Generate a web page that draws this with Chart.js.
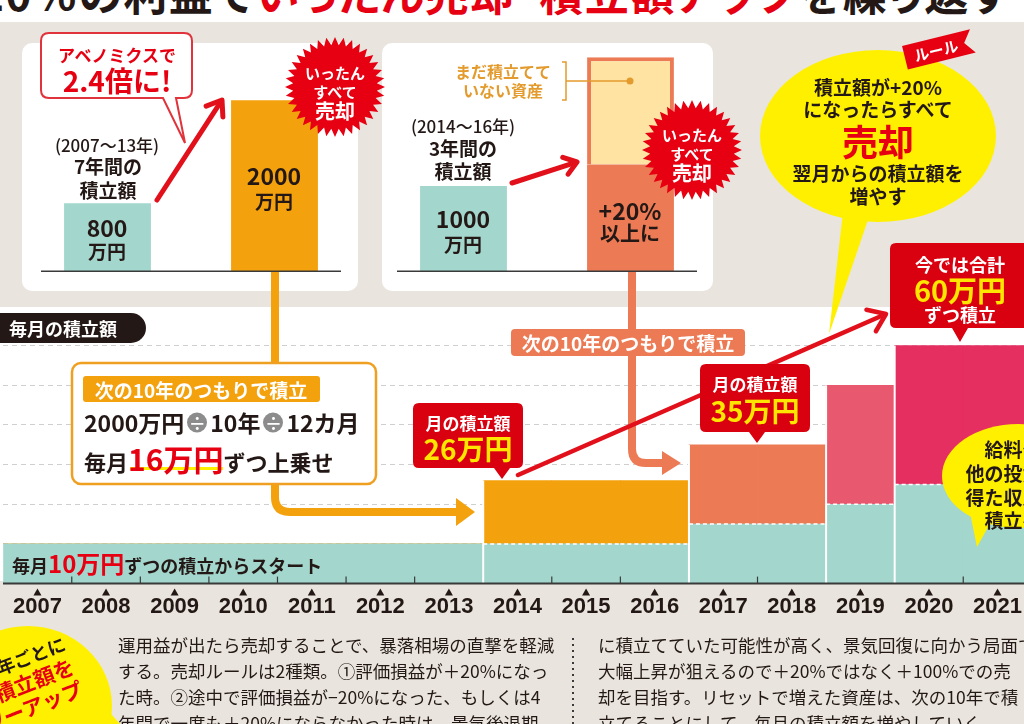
<!DOCTYPE html>
<html lang="ja">
<head>
<meta charset="utf-8">
<title>積立額アップを繰り返す</title>
<script src="https://cdn.jsdelivr.net/npm/chart.js@4.4.0/dist/chart.umd.min.js"></script>
<style>
html, body { margin: 0; padding: 0; }
body {
    width: 1024px; height: 724px; overflow: hidden; position: relative;
    background: #e9e5de; color: #231815;
    font-family: "Noto Sans CJK JP", "Noto Sans", sans-serif;
}
.abs { position: absolute; }
.panel { position: absolute; background: #fff; border-radius: 10px; }
.t { position: absolute; white-space: nowrap; line-height: 1; font-weight: 700; }
.c { transform: translate(-50%, -50%); text-align: center; }
.l { transform: translateY(-50%); }
.w { color: #fff; }
.y { color: #ffe600; }
.r { color: #e60012; }
.dv {
    display: inline-block; width: 20px; height: 20px; border-radius: 50%;
    background: #8c8c8c; color: #fff; font-size: 17px; line-height: 20px;
    text-align: center; vertical-align: 2px; margin: 0 3px;
}
.para { position: absolute; font-size: 17.5px; line-height: 26px; white-space: nowrap; font-weight: 400; }
</style>
</head>
<body>

<div class="abs" style="left:0;top:0;width:1024px;height:22px;background:#fff;"></div>
<div class="t" style="left:-22px;top:-30px;font-size:44px;letter-spacing:1.5px;font-feature-settings:'palt';">20％の利益で<span class="r">いったん売却・積立額アップ</span>を繰り返す</div>

<div class="panel" style="left:22px;top:43px;width:336px;height:248px;"></div>
<div class="panel" style="left:382px;top:43px;width:331px;height:248px;"></div>
<div class="abs" style="left:0;top:307px;width:1024px;height:274px;background:#fff;"></div>

<canvas id="firstChart" class="abs" style="left:24px;top:40px;" width="334" height="232"></canvas>
<canvas id="secondChart" class="abs" style="left:380px;top:40px;" width="334" height="232"></canvas>
<canvas id="mainChart" class="abs" style="left:3px;top:306px;" width="1029" height="324"></canvas>

<svg id="deco" class="abs" width="1024" height="724" style="left:0;top:0;">
  <ellipse cx="28" cy="706" rx="84" ry="80" fill="#fff000"/>
  <polygon points="90,690 120,724 70,724" fill="#fff000"/>
  <line x1="573" y1="638" x2="573" y2="724" stroke="#3a3a3a" stroke-width="2" stroke-dasharray="2,4"/>

  <path d="M275,272 V497 Q275,512 290,512 H458" fill="none" stroke="#f4a10e" stroke-width="8"/>
  <polygon points="456,498 475,512 456,526" fill="#f4a10e"/>
  <path d="M632,272 V449 Q632,463 646,463 H664" fill="none" stroke="#ec7b55" stroke-width="8"/>
  <polygon points="662,451 681,463 662,475" fill="#ec7b55"/>

  <rect x="-20" y="313" width="166" height="30" rx="15" fill="#231815"/>

  <rect x="72" y="363" width="304" height="121" rx="9" fill="#fff" stroke="#f0a020" stroke-width="2.5"/>
  <rect x="83" y="376" width="237" height="26" rx="3" fill="#f4a10e"/>
  <rect x="511" y="329" width="234" height="27" rx="4" fill="#ec7b55"/>

  <path d="M49,33 H184 Q192,33 192,41 V90 Q192,98 184,98 H176 L185,143 L163,98 H49 Q41,98 41,90 V41 Q41,33 49,33 Z" fill="#fff" stroke="#e0333c" stroke-width="2"/>

  <polyline points="562,62 566,62 566,100 562,100" fill="none" stroke="#e39b2d" stroke-width="1.5"/>
  <line x1="566" y1="81" x2="630" y2="81" stroke="#e39b2d" stroke-width="1.5"/>
  <circle cx="630" cy="81" r="3.5" fill="#e39b2d"/>

  <ellipse cx="878" cy="136" rx="118" ry="86" fill="#fff000"/>
  <polygon points="843,212 870,214 829,334" fill="#fff000"/>
  <g transform="rotate(-14 936 50)"><polygon points="904,38 974,38 965,50 974,62 904,62" fill="#e60012"/></g>

  <ellipse cx="1018" cy="476" rx="76" ry="52" fill="#fff000"/>
  <polygon points="968,503 992,520 977,547" fill="#fff000"/>

  <g id="arrows"></g>
  <g id="bursts"></g>

  <path d="M419,403 H517 Q523,403 523,409 V462 Q523,468 517,468 H510 L502,479 L494,468 H419 Q413,468 413,462 V409 Q413,403 419,403 Z" fill="#d9000f"/>
  <path d="M706,364 H804 Q810,364 810,370 V426 Q810,432 804,432 H765 L757,443 L749,432 H706 Q700,432 700,426 V370 Q700,364 706,364 Z" fill="#d9000f"/>
  <path d="M896,243 H1030 V328 H968 L960,342 L952,328 H896 Q890,328 890,322 V249 Q890,243 896,243 Z" fill="#d9000f"/>
</svg>

<!-- top-left panel texts -->
<div class="t c r" style="left:117px;top:54px;font-size:17px;">アベノミクスで</div>
<div class="t c r" style="left:117px;top:80px;font-size:28px;">2.4倍に!</div>
<div class="t c" style="left:107px;top:144px;font-size:17px;font-weight:500;">(2007〜13年)</div>
<div class="t c" style="left:108px;top:165px;font-size:19px;">7年間の</div>
<div class="t c" style="left:108px;top:189px;font-size:19px;">積立額</div>
<div class="t c" style="left:107px;top:227px;font-size:23px;">800</div>
<div class="t c" style="left:107px;top:250px;font-size:19px;">万円</div>
<div class="t c" style="left:274px;top:175px;font-size:23px;">2000</div>
<div class="t c" style="left:274px;top:200px;font-size:19px;">万円</div>
<div class="t c w" style="left:335px;top:72px;font-size:15px;">いったん</div>
<div class="t c w" style="left:335px;top:91px;font-size:15px;">すべて</div>
<div class="t c w" style="left:335px;top:111px;font-size:20px;">売却</div>

<!-- top-right panel texts -->
<div class="t c" style="left:503px;top:71px;font-size:16px;color:#e39b2d;">まだ積立てて</div>
<div class="t c" style="left:503px;top:90px;font-size:16px;color:#e39b2d;">いない資産</div>
<div class="t c" style="left:463px;top:125px;font-size:17px;font-weight:500;">(2014〜16年)</div>
<div class="t c" style="left:463px;top:147px;font-size:19px;">3年間の</div>
<div class="t c" style="left:463px;top:170px;font-size:19px;">積立額</div>
<div class="t c" style="left:463px;top:218px;font-size:23px;">1000</div>
<div class="t c" style="left:463px;top:243px;font-size:19px;">万円</div>
<div class="t c" style="left:630px;top:210px;font-size:23px;">+20%</div>
<div class="t c" style="left:630px;top:233px;font-size:20px;">以上に</div>
<div class="t c w" style="left:692px;top:134px;font-size:15px;">いったん</div>
<div class="t c w" style="left:692px;top:153px;font-size:15px;">すべて</div>
<div class="t c w" style="left:692px;top:173px;font-size:20px;">売却</div>

<!-- rule bubble -->
<div class="t c w" style="left:936px;top:50px;font-size:15px;transform:translate(-50%,-50%) rotate(-14deg);">ルール</div>
<div class="t c" style="left:878px;top:86px;font-size:19px;">積立額が+20%</div>
<div class="t c" style="left:878px;top:108px;font-size:19px;">になったらすべて</div>
<div class="t c r" style="left:878px;top:140px;font-size:36px;">売却</div>
<div class="t c" style="left:878px;top:172px;font-size:19px;">翌月からの積立額を</div>
<div class="t c" style="left:878px;top:195px;font-size:19px;">増やす</div>

<!-- main chart annotations -->
<div class="t l w" style="left:9px;top:328px;font-size:18px;">毎月の積立額</div>
<div class="t c w" style="left:201px;top:389px;font-size:19px;">次の10年のつもりで積立</div>
<div class="t l" style="left:84px;top:422px;font-size:23px;">2000万円<span class="dv">÷</span>10年<span class="dv">÷</span>12カ月</div>
<div class="abs" style="left:130px;top:467px;width:93px;height:3px;background:#fff000;"></div>
<div class="t l" style="left:84px;top:458px;font-size:22px;">毎月<span class="r" style="font-size:30px;">16万円</span>ずつ上乗せ</div>
<div class="t c w" style="left:628px;top:342px;font-size:19px;">次の10年のつもりで積立</div>
<div class="t c w" style="left:468px;top:422px;font-size:17px;">月の積立額</div>
<div class="t c y" style="left:468px;top:448px;font-size:28px;">26万円</div>
<div class="t c w" style="left:755px;top:383px;font-size:17px;">月の積立額</div>
<div class="t c y" style="left:755px;top:410px;font-size:28px;">35万円</div>
<div class="t c w" style="left:960px;top:264px;font-size:18px;">今では合計</div>
<div class="t c y" style="left:960px;top:289px;font-size:29px;">60万円</div>
<div class="t c w" style="left:960px;top:314px;font-size:18px;">ずつ積立</div>
<div class="t l" style="left:12px;top:563px;font-size:18px;">毎月<span class="r" style="font-size:24px;">10万円</span>ずつの積立からスタート</div>
<div class="t c" style="left:1013px;top:448px;font-size:19px;">給料や</div>
<div class="t c" style="left:1013px;top:472px;font-size:19px;">他の投資で</div>
<div class="t c" style="left:1013px;top:496px;font-size:19px;">得た収入も</div>
<div class="t c" style="left:1013px;top:519px;font-size:19px;">積立へ</div>

<!-- lower area -->
<div class="t" style="left:-140px;top:631px;width:200px;line-height:24px;text-align:right;transform:rotate(-21deg);transform-origin:right top;">
  <div style="font-size:18px;">3年ごとに</div>
  <div class="r" style="font-size:21px;">積立額を</div>
  <div class="r" style="font-size:21px;">パワーアップ</div>
</div>
<div class="para" style="left:118px;top:632px;">
  <div>運用益が出たら売却することで、暴落相場の直撃を軽減</div>
  <div>する。売却ルールは2種類。①評価損益が＋20%になっ</div>
  <div>た時。②途中で評価損益が−20%になった、もしくは4</div>
  <div>年間で一度も＋20%にならなかった時は、景気後退期</div>
</div>
<div class="para" style="left:598px;top:632px;">
  <div>に積立てていた可能性が高く、景気回復に向かう局面で</div>
  <div>大幅上昇が狙えるので＋20%ではなく＋100%での売</div>
  <div>却を目指す。リセットで増えた資産は、次の10年で積</div>
  <div>立てることにして、毎月の積立額を増やしていく。</div>
</div>

<script>
// monthly contribution (万円), one entry per year
const years = ['2007', '2008', '2009', '2010', '2011', '2012', '2013', '2014',
               '2015', '2016', '2017', '2018', '2019', '2020', '2021'];
const baseMonthly = [10, 10, 10, 10, 10, 10, 10, 10, 10, 10, 15, 15, 20, 25, 25];
const addedMonthly = [0, 0, 0, 0, 0, 0, 0, 16, 16, 16, 20, 20, 30, 35, 35];
const resetYears = ['2014', '2017', '2019', '2020'];
const gridValues = [10, 20, 30, 40, 50, 60];

// first cycle: 2007-13 paid in vs value at sale (万円)
const firstLabels = ['7年間の積立額', '売却時'];
const firstValues = [800, 2000];

// second cycle: 2014-16
const secondLabels = ['3年間の積立額', '売却時'];
const secondPaid = [1000, null];
const secondGain = [null, 1250];
const secondUnfunded = [null, 1250];

const TEAL = '#a3d6cd';
const ORANGE = '#f4a10e';
const SALMON = '#ec7b55';
const phaseColors = [ORANGE, SALMON, '#e8596f', '#e52f60'];

function phaseOf(i) {
    let p = 0;
    resetYears.forEach((yr, k) => { if (years.indexOf(yr) <= i) p = k; });
    return p;
}

const common = {
    responsive: false,
    animation: false,
    plugins: { legend: { display: false }, tooltip: { enabled: false } },
    layout: { padding: 0 }
};

const miniBase = {
    id: 'miniBase',
    afterDatasetsDraw(chart) {
        const { ctx, chartArea: a } = chart;
        ctx.save();
        ctx.strokeStyle = '#3a3a3a';
        ctx.lineWidth = 1.5;
        ctx.beginPath();
        ctx.moveTo(a.left + 17, a.bottom - 0.75);
        ctx.lineTo(a.right - 17, a.bottom - 0.75);
        ctx.stroke();
        ctx.restore();
    }
};

function miniScales() {
    return {
        x: { display: false, stacked: true },
        y: { display: false, stacked: true, min: 0, max: 2700 }
    };
}

new Chart(document.getElementById('firstChart'), {
    type: 'bar',
    data: {
        labels: firstLabels,
        datasets: [{
            data: firstValues,
            backgroundColor: [TEAL, ORANGE],
            barPercentage: 0.52,
            categoryPercentage: 1
        }]
    },
    options: { ...common, scales: miniScales() },
    plugins: [miniBase]
});

new Chart(document.getElementById('secondChart'), {
    type: 'bar',
    data: {
        labels: secondLabels,
        datasets: [
            { data: secondPaid, backgroundColor: TEAL, barPercentage: 0.52, categoryPercentage: 1 },
            { data: secondGain, backgroundColor: SALMON, barPercentage: 0.52, categoryPercentage: 1 },
            { data: secondUnfunded, backgroundColor: '#fee3a2', borderColor: SALMON, borderWidth: 4,
              borderSkipped: 'bottom', barPercentage: 0.52, categoryPercentage: 1 }
        ]
    },
    options: { ...common, scales: miniScales() },
    plugins: [miniBase]
});

const mainDecor = {
    id: 'mainDecor',
    afterDatasetsDraw(chart) {
        const { ctx, chartArea, scales: { x } } = chart;
        const base = chart.getDatasetMeta(0).data;
        const top = chart.getDatasetMeta(1).data;
        const half = (x.getPixelForValue(1) - x.getPixelForValue(0)) / 2;
        ctx.save();

        // dashed edge between the starting amount and the top-up
        ctx.strokeStyle = '#fff';
        ctx.lineWidth = 1.5;
        ctx.setLineDash([4, 3]);
        addedMonthly.forEach((v, i) => {
            if (!v) return;
            ctx.beginPath();
            ctx.moveTo(base[i].x - half, base[i].y);
            ctx.lineTo(base[i].x + half, base[i].y);
            ctx.stroke();
        });
        ctx.setLineDash([]);

        // white split where a new cycle starts
        ctx.lineWidth = 2;
        resetYears.forEach(yr => {
            const i = years.indexOf(yr);
            const xx = x.getPixelForValue(i) - half;
            ctx.beginPath();
            ctx.moveTo(xx, top[i].y);
            ctx.lineTo(xx, chartArea.bottom);
            ctx.stroke();
        });

        // little year ticks inside the plot
        ctx.strokeStyle = '#3a3a3a';
        ctx.lineWidth = 1.2;
        for (let i = 1; i < years.length; i++) {
            if (resetYears.includes(years[i])) continue;
            const xx = x.getPixelForValue(i) - half;
            ctx.beginPath();
            ctx.moveTo(xx, chartArea.bottom);
            ctx.lineTo(xx, chartArea.bottom - 7);
            ctx.stroke();
        }

        // axis line
        ctx.lineWidth = 2;
        ctx.beginPath();
        ctx.moveTo(0, chartArea.bottom);
        ctx.lineTo(chart.width, chartArea.bottom);
        ctx.stroke();

        // small markers over the year labels
        ctx.fillStyle = '#231815';
        years.forEach((yr, i) => {
            const xx = x.getPixelForValue(i);
            const yy = chartArea.bottom + 5;
            ctx.beginPath();
            ctx.moveTo(xx - 4, yy + 7);
            ctx.lineTo(xx + 4, yy + 7);
            ctx.lineTo(xx, yy);
            ctx.closePath();
            ctx.fill();
        });
        ctx.restore();
    }
};

new Chart(document.getElementById('mainChart'), {
    type: 'bar',
    data: {
        labels: years,
        datasets: [
            { label: '毎月の積立', data: baseMonthly, backgroundColor: TEAL,
              barPercentage: 1, categoryPercentage: 1 },
            { label: '上乗せ', data: addedMonthly,
              backgroundColor: years.map((_, i) => phaseColors[phaseOf(i)]),
              barPercentage: 1, categoryPercentage: 1 }
        ]
    },
    options: {
        ...common,
        scales: {
            x: {
                stacked: true,
                grid: { display: false, drawTicks: false },
                border: { display: false },
                ticks: {
                    padding: 10,
                    color: '#231815',
                    font: { family: "'Liberation Sans', Arial, sans-serif", size: 22, weight: 'bold' }
                }
            },
            y: {
                stacked: true,
                min: 0,
                max: 70,
                afterBuildTicks(scale) { scale.ticks = gridValues.map(v => ({ value: v })); },
                ticks: { display: false },
                grid: { color: '#cfcfcf', lineWidth: 1, drawTicks: false },
                border: { display: false, dash: [5, 4] }
            }
        }
    },
    plugins: [mainDecor]
});

// decorations: arrows and starbursts
const NS = 'http://www.w3.org/2000/svg';
function svgEl(tag, attrs, parent) {
    const el = document.createElementNS(NS, tag);
    Object.entries(attrs).forEach(([k, v]) => el.setAttribute(k, v));
    parent.appendChild(el);
    return el;
}

function arrow(x1, y1, x2, y2, width, head) {
    const g = document.getElementById('arrows');
    const ang = Math.atan2(y2 - y1, x2 - x1);
    svgEl('line', { x1, y1, x2: x2 - Math.cos(ang) * 2, y2: y2 - Math.sin(ang) * 2,
        stroke: '#e2101b', 'stroke-width': width, 'stroke-linecap': 'round' }, g);
    const a1 = ang + Math.PI * 0.8, a2 = ang - Math.PI * 0.8;
    const pts = [
        [x2 + Math.cos(a1) * head, y2 + Math.sin(a1) * head],
        [x2, y2],
        [x2 + Math.cos(a2) * head, y2 + Math.sin(a2) * head]
    ].map(p => p.join(',')).join(' ');
    svgEl('polyline', { points: pts, fill: 'none', stroke: '#e2101b', 'stroke-width': width,
        'stroke-linecap': 'round', 'stroke-linejoin': 'round' }, g);
}

arrow(157, 200, 222, 100, 5, 17);
arrow(512, 183, 577, 162, 5, 15);
arrow(518, 475, 886, 314, 4.5, 20);

function burst(cx, cy, outer, inner, n) {
    const pts = [];
    for (let i = 0; i < n * 2; i++) {
        const r = i % 2 ? inner : outer;
        const a = Math.PI * i / n;
        pts.push((cx + Math.cos(a) * r).toFixed(1) + ',' + (cy + Math.sin(a) * r).toFixed(1));
    }
    svgEl('polygon', { points: pts.join(' '), fill: '#e60012' }, document.getElementById('bursts'));
}

burst(335, 87, 50, 42, 36);
burst(692, 150, 50, 42, 36);
</script>
</body>
</html>
